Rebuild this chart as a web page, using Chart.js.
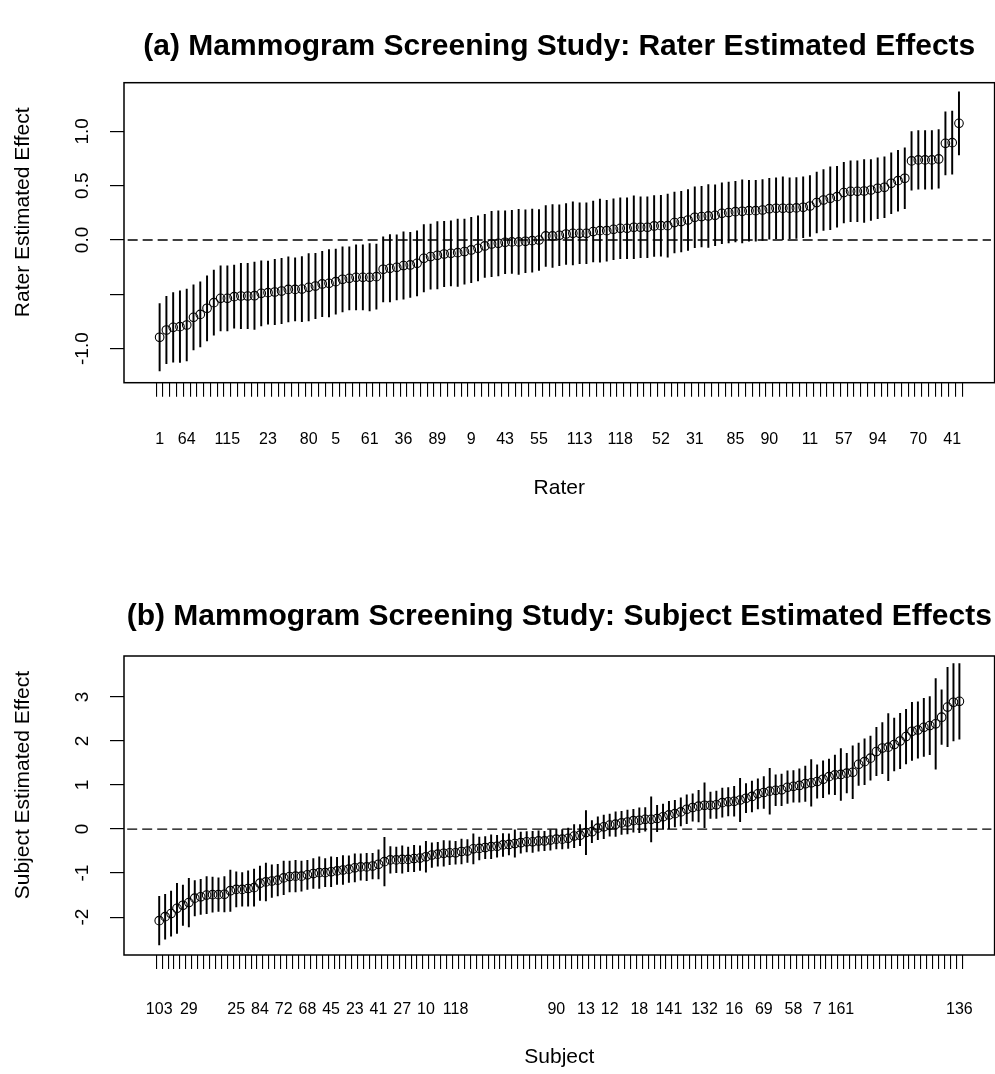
<!DOCTYPE html>
<html>
<head>
<meta charset="utf-8">
<title>Mammogram Screening Study: Estimated Effects</title>
<script src="https://cdn.jsdelivr.net/npm/chart.js@4.4.1/dist/chart.umd.min.js"></script>
<style>
  html, body { margin: 0; padding: 0; background: #fff; overflow: hidden; }
  .panel { width: 1000px; height: 537px; }
  canvas { display: block; }
</style>
</head>
<body>
<div class="panel"><canvas id="rater-chart" width="1000" height="537"></canvas></div>
<div class="panel"><canvas id="subject-chart" width="1000" height="537"></canvas></div>
<script>
// (a) rater effects, sorted, with half-widths of the interval bars
const raterEst = [
  -0.896, -0.829, -0.804, -0.798, -0.783, -0.712, -0.685, -0.629, -0.577, -0.537,
  -0.537, -0.522, -0.516, -0.516, -0.513, -0.491, -0.485, -0.479, -0.470, -0.455,
  -0.455, -0.452, -0.436, -0.424, -0.405, -0.399, -0.384, -0.362, -0.353, -0.344,
  -0.344, -0.344, -0.338, -0.270, -0.261, -0.252, -0.236, -0.230, -0.215, -0.169,
  -0.153, -0.141, -0.129, -0.123, -0.117, -0.107, -0.092, -0.077, -0.055, -0.037,
  -0.031, -0.021, -0.018, -0.018, -0.012, -0.006, 0.000, 0.037, 0.037, 0.043,
  0.055, 0.061, 0.061, 0.061, 0.077, 0.086, 0.086, 0.098, 0.107, 0.107,
  0.117, 0.117, 0.117, 0.129, 0.132, 0.132, 0.160, 0.169, 0.184, 0.209,
  0.215, 0.221, 0.227, 0.245, 0.252, 0.261, 0.264, 0.270, 0.270, 0.276,
  0.288, 0.292, 0.292, 0.292, 0.295, 0.301, 0.313, 0.344, 0.368, 0.384,
  0.399, 0.436, 0.448, 0.448, 0.451, 0.460, 0.476, 0.485, 0.522, 0.546,
  0.568, 0.728, 0.737, 0.737, 0.737, 0.746, 0.890, 0.896, 1.074
];
const raterHalf = [
  0.31, 0.31, 0.32, 0.33, 0.33, 0.30, 0.30, 0.30, 0.30, 0.30,
  0.30, 0.29, 0.30, 0.30, 0.31, 0.30, 0.29, 0.30, 0.30, 0.30,
  0.29, 0.30, 0.31, 0.30, 0.30, 0.31, 0.30, 0.30, 0.29, 0.30,
  0.30, 0.31, 0.30, 0.30, 0.31, 0.30, 0.31, 0.30, 0.30, 0.31,
  0.30, 0.31, 0.30, 0.30, 0.31, 0.30, 0.30, 0.30, 0.29, 0.30,
  0.30, 0.29, 0.29, 0.30, 0.29, 0.29, 0.28, 0.28, 0.29, 0.28,
  0.28, 0.29, 0.28, 0.28, 0.28, 0.29, 0.28, 0.28, 0.28, 0.28,
  0.29, 0.28, 0.28, 0.28, 0.28, 0.29, 0.28, 0.28, 0.28, 0.28,
  0.28, 0.29, 0.28, 0.28, 0.28, 0.28, 0.29, 0.28, 0.28, 0.28,
  0.28, 0.28, 0.29, 0.28, 0.28, 0.28, 0.28, 0.28, 0.28, 0.29,
  0.28, 0.28, 0.28, 0.28, 0.29, 0.28, 0.28, 0.28, 0.28, 0.28,
  0.28, 0.27, 0.27, 0.27, 0.27, 0.27, 0.29, 0.29, 0.29
];
const raterTickIdx = [1, 5, 11, 17, 23, 27, 32, 37, 42, 47, 52, 57, 63, 69, 75, 80, 86, 91, 97, 102, 107, 113, 118];
const raterTickLab = ['1', '64', '115', '23', '80', '5', '61', '36', '89', '9', '43', '55', '113', '118', '52', '31', '85', '90', '11', '57', '94', '70', '41'];
const raterYTicks = [-1, -0.5, 0, 0.5, 1];

// (b) subject effects
const subjectEst = [
  -2.08, -1.99, -1.92, -1.80, -1.73, -1.67, -1.57, -1.54, -1.50, -1.49,
  -1.49, -1.48, -1.40, -1.37, -1.37, -1.35, -1.33, -1.23, -1.20, -1.18,
  -1.16, -1.11, -1.08, -1.07, -1.07, -1.04, -1.01, -0.99, -0.99, -0.97,
  -0.95, -0.93, -0.91, -0.88, -0.86, -0.86, -0.84, -0.80, -0.74, -0.70,
  -0.70, -0.69, -0.69, -0.67, -0.66, -0.63, -0.59, -0.57, -0.55, -0.54,
  -0.54, -0.51, -0.50, -0.45, -0.44, -0.42, -0.40, -0.39, -0.36, -0.35,
  -0.33, -0.31, -0.29, -0.29, -0.27, -0.27, -0.25, -0.23, -0.23, -0.21,
  -0.16, -0.14, -0.08, -0.06, 0.02, 0.05, 0.09, 0.11, 0.14, 0.16,
  0.19, 0.20, 0.22, 0.22, 0.24, 0.28, 0.32, 0.35, 0.39, 0.45,
  0.49, 0.52, 0.54, 0.54, 0.55, 0.60, 0.62, 0.63, 0.66, 0.70,
  0.74, 0.80, 0.83, 0.86, 0.88, 0.89, 0.95, 0.97, 0.99, 1.03,
  1.05, 1.08, 1.13, 1.19, 1.23, 1.24, 1.27, 1.29, 1.47, 1.53,
  1.61, 1.76, 1.84, 1.86, 1.92, 2.00, 2.10, 2.22, 2.25, 2.31,
  2.35, 2.39, 2.54, 2.77, 2.88, 2.90
];
const subjectHalf = [
  0.55, 0.51, 0.51, 0.57, 0.46, 0.55, 0.40, 0.40, 0.42, 0.40,
  0.38, 0.40, 0.47, 0.40, 0.38, 0.40, 0.42, 0.39, 0.43, 0.37,
  0.36, 0.38, 0.35, 0.36, 0.34, 0.33, 0.34, 0.36, 0.32, 0.34,
  0.31, 0.33, 0.30, 0.32, 0.30, 0.31, 0.29, 0.33, 0.55, 0.30,
  0.29, 0.31, 0.28, 0.30, 0.28, 0.35, 0.28, 0.27, 0.29, 0.27,
  0.26, 0.28, 0.26, 0.34, 0.26, 0.25, 0.27, 0.25, 0.26, 0.24,
  0.31, 0.24, 0.23, 0.24, 0.23, 0.22, 0.23, 0.22, 0.22, 0.23,
  0.26, 0.24, 0.50, 0.25, 0.26, 0.27, 0.25, 0.28, 0.26, 0.27,
  0.26, 0.28, 0.27, 0.51, 0.30, 0.29, 0.31, 0.30, 0.32, 0.33,
  0.31, 0.36, 0.51, 0.30, 0.31, 0.33, 0.32, 0.34, 0.49, 0.33,
  0.35, 0.34, 0.36, 0.52, 0.35, 0.36, 0.37, 0.36, 0.38, 0.40,
  0.53, 0.38, 0.42, 0.40, 0.45, 0.59, 0.45, 0.60, 0.48, 0.52,
  0.50, 0.55, 0.58, 0.76, 0.60, 0.63, 0.62, 0.66, 0.64, 0.66,
  0.66, 1.03, 0.62, 0.90, 0.88, 0.86
];
const subjectTickIdx = [1, 6, 14, 18, 22, 26, 30, 34, 38, 42, 46, 51, 68, 73, 77, 82, 87, 93, 98, 103, 108, 112, 116, 136];
const subjectTickLab = ['103', '29', '25', '84', '72', '68', '45', '23', '41', '27', '10', '118', '90', '13', '12', '18', '141', '132', '16', '69', '58', '7', '161', '136'];
const subjectYTicks = [-2, -1, 0, 1, 2, 3];

const FONT = "'Liberation Sans', Arial, Helvetica, sans-serif";
Chart.defaults.font.family = FONT;
Chart.defaults.color = '#000';

// plot frame, like R's box()
const boxPlugin = {
  id: 'frameBox',
  afterDraw(chart) {
    const { ctx, chartArea: a } = chart;
    ctx.save();
    ctx.strokeStyle = '#000';
    ctx.lineWidth = 1.5;
    ctx.strokeRect(a.left, a.top, a.right - a.left, a.bottom - a.top);
    ctx.restore();
  }
};

function buildPanel(canvasId, p) {
  const n = p.est.length;
  const idx = p.est.map((_, i) => i + 1);
  const ext = 0.04 * (n - 1);
  const xMin = 1 - ext;
  const xMax = n + ext;
  const labelMap = new Map(p.tickIdx.map((v, i) => [v, p.tickLab[i]]));

  return new Chart(document.getElementById(canvasId), {
    type: 'scatter',
    data: {
      datasets: [
        {
          type: 'line',
          data: [{ x: xMin, y: 0 }, { x: xMax, y: 0 }],
          borderColor: '#000',
          borderWidth: 1.3,
          borderDash: [10, 5],
          pointRadius: 0,
          order: 3
        },
        {
          type: 'bar',
          data: idx.map((x, i) => ({ x, y: [p.est[i] - p.half[i], p.est[i] + p.half[i]] })),
          backgroundColor: '#000',
          borderWidth: 0,
          barThickness: 1.3,
          grouped: false,
          order: 2
        },
        {
          type: 'scatter',
          data: idx.map((x, i) => ({ x, y: p.est[i] })),
          pointStyle: 'circle',
          pointRadius: 4.3,
          pointBorderWidth: 1.1,
          pointBorderColor: '#000',
          pointBackgroundColor: 'rgba(0,0,0,0)',
          showLine: false,
          order: 1
        }
      ]
    },
    options: {
      responsive: false,
      animation: false,
      devicePixelRatio: 1,
      events: [],
      layout: { padding: { left: 0, top: 0, right: 4, bottom: p.padBottom } },
      plugins: {
        legend: { display: false },
        tooltip: { enabled: false },
        title: {
          display: true,
          fullSize: false,
          text: p.title,
          font: { size: 30, weight: 'bold', family: FONT },
          color: '#000',
          padding: { top: p.titleTop, bottom: p.titleBottom }
        }
      },
      scales: {
        x: {
          type: 'linear',
          min: xMin,
          max: xMax,
          afterBuildTicks: (s) => { s.ticks = idx.map((v) => ({ value: v })); },
          afterFit: (s) => { s.height = p.xHeight; s.paddingLeft = 0; s.paddingRight = 0; },
          ticks: {
            autoSkip: false,
            minRotation: 0,
            maxRotation: 0,
            padding: p.xTickPad,
            font: { size: 16 },
            color: '#000',
            callback: (v) => labelMap.get(v) || ''
          },
          grid: { drawOnChartArea: false, drawTicks: true, tickLength: 14, color: '#000', lineWidth: 1.1 },
          border: { display: false },
          title: {
            display: true,
            text: p.xTitle,
            font: { size: 21 },
            color: '#000',
            padding: { top: 0, bottom: 2 }
          }
        },
        y: {
          type: 'linear',
          min: p.yMin,
          max: p.yMax,
          afterBuildTicks: (s) => { s.ticks = p.yTicks.map((v) => ({ value: v })); },
          afterFit: (s) => { s.width = 124; s.paddingTop = 0; s.paddingBottom = 0; },
          ticks: {
            minRotation: 90,
            maxRotation: 90,
            crossAlign: 'center',
            padding: p.yTickPad,
            font: { size: 19 },
            color: '#000',
            callback: p.yLabel
          },
          grid: { drawOnChartArea: false, drawTicks: true, tickLength: 14, color: '#000', lineWidth: 1.2 },
          border: { display: false },
          title: {
            display: true,
            // leading spaces nudge the label upward, as in the original
            text: '       ' + p.yTitle,
            font: { size: 21 },
            color: '#000',
            padding: { top: 10.4, bottom: 0 }
          }
        }
      }
    },
    plugins: [boxPlugin]
  });
}

buildPanel('rater-chart', {
  est: raterEst,
  half: raterHalf,
  tickIdx: raterTickIdx,
  tickLab: raterTickLab,
  yTicks: raterYTicks,
  yLabel: (v) => (v === -0.5 ? '' : v.toFixed(1)),
  yMin: -1.314,
  yMax: 1.448,
  title: '(a) Mammogram Screening Study: Rater Estimated Effects',
  xTitle: 'Rater',
  yTitle: 'Rater Estimated Effect',
  titleTop: 29,
  titleBottom: 17.7,
  xHeight: 120,
  xTickPad: 33.5,
  yTickPad: 10.6,
  padBottom: 34.3
});

buildPanel('subject-chart', {
  est: subjectEst,
  half: subjectHalf,
  tickIdx: subjectTickIdx,
  tickLab: subjectTickLab,
  yTicks: subjectYTicks,
  yLabel: (v) => String(v),
  yMin: -2.86,
  yMax: 3.93,
  title: '(b) Mammogram Screening Study: Subject Estimated Effects',
  xTitle: 'Subject',
  yTitle: 'Subject Estimated Effect',
  titleTop: 62,
  titleBottom: 21,
  xHeight: 116.6,
  xTickPad: 31,
  yTickPad: 18.6,
  padBottom: 2.4
});
</script>
</body>
</html>
